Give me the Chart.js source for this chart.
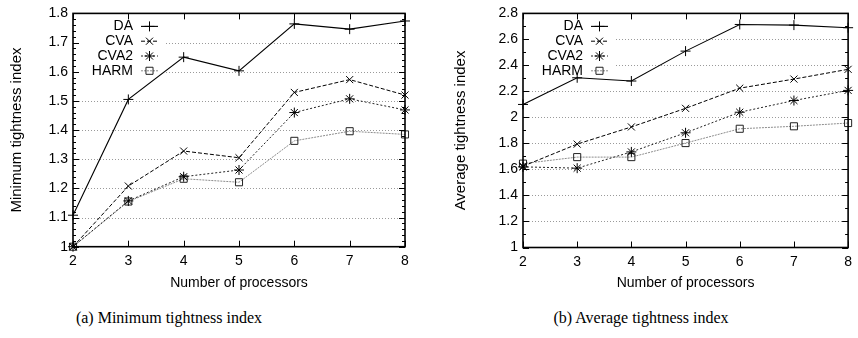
<!DOCTYPE html>
<html>
<head>
<meta charset="utf-8">
<script src="https://cdn.jsdelivr.net/npm/chart.js@4/dist/chart.umd.min.js"></script>
<style>
  body { margin: 0; background: #fff; width: 858px; height: 338px; position: relative; overflow: hidden; }
  .panel { position: absolute; top: 0; width: 429px; height: 300px; }
  .caption { position: absolute; top: 309px; font-family: "Liberation Serif", "Times New Roman", serif; font-size: 16px; color: #000; transform: translateX(-50%); white-space: nowrap; }
</style>
</head>
<body>
<div class="panel" style="left:0"><canvas id="minChart"></canvas></div>
<div class="panel" style="left:429px"><canvas id="avgChart"></canvas></div>
<div class="caption" style="left:169px">(a) Minimum tightness index</div>
<div class="caption" style="left:641px">(b) Average tightness index</div>
<script>
// number of processors (x axis)
const processors = [2, 3, 4, 5, 6, 7, 8];
const seriesNames = ["DA", "CVA", "CVA2", "HARM"];

// minimum tightness index
const minDA   = [1.108, 1.505, 1.650, 1.603, 1.764, 1.746, 1.774];
const minCVA  = [1.000, 1.208, 1.328, 1.305, 1.529, 1.573, 1.520];
const minCVA2 = [1.000, 1.157, 1.240, 1.263, 1.460, 1.507, 1.469];
const minHARM = [1.000, 1.155, 1.233, 1.221, 1.363, 1.396, 1.385];

// average tightness index
const avgDA   = [2.100, 2.305, 2.280, 2.510, 2.715, 2.710, 2.690];
const avgCVA  = [1.625, 1.795, 1.927, 2.070, 2.225, 2.295, 2.370];
const avgCVA2 = [1.620, 1.610, 1.735, 1.882, 2.040, 2.130, 2.208];
const avgHARM = [1.645, 1.695, 1.695, 1.803, 1.913, 1.932, 1.957];

// tick labels
const minTicks = [1, 1.1, 1.2, 1.3, 1.4, 1.5, 1.6, 1.7, 1.8];
const avgTicks = [1, 1.2, 1.4, 1.6, 1.8, 2, 2.2, 2.4, 2.6, 2.8];

// line look per series
const styles = [
  { line: "#000", point: "#000", dash: [],     shape: "cross",    width: 1.1 },
  { line: "#000", point: "#000", dash: [4, 2], shape: "crossRot", width: 1 },
  { line: "#222", point: "#000", dash: [2, 2], shape: "star",     width: 1 },
  { line: "#8c8c8c", point: "#222", dash: [2, 1], shape: "rect",  width: 1 }
];

Chart.defaults.font.family = "'Liberation Sans', Arial, Helvetica, sans-serif";
Chart.defaults.font.size = 14;
Chart.defaults.color = "#000";

function drawMarker(ctx, shape, x, y, color) {
  ctx.save();
  ctx.strokeStyle = color;
  ctx.fillStyle = "rgba(0,0,0,0)";
  ctx.lineWidth = 1;
  ctx.setLineDash([]);
  Chart.helpers.drawPoint(ctx, { pointStyle: shape, radius: 5, rotation: 0, borderWidth: 1 }, x, y);
  ctx.restore();
}

// gnuplot-like frame: dotted grid, key box, inward ticks, border
const framePlugin = {
  id: "frame",
  beforeDatasetsDraw(chart, args, opts) {
    const { ctx, chartArea: a } = chart;
    const y = chart.scales.y;
    ctx.save();
    ctx.strokeStyle = "#9a9a9a";
    ctx.lineWidth = 1;
    ctx.setLineDash([1, 2]);
    opts.yTicks.slice(1, -1).forEach(v => {
      const py = Math.round(y.getPixelForValue(v)) + 0.5;
      ctx.beginPath(); ctx.moveTo(a.left, py); ctx.lineTo(a.right, py); ctx.stroke();
    });
    ctx.setLineDash([]);

    // key
    ctx.fillStyle = "#fff";
    ctx.fillRect(a.left + 1, a.top + 1, 92, 64);
    ctx.font = "14px 'Liberation Sans', Arial, sans-serif";
    ctx.textAlign = "right";
    ctx.textBaseline = "middle";
    seriesNames.forEach((name, i) => {
      const s = styles[i];
      const ky = a.top + 13 + i * 14.8;
      ctx.fillStyle = "#000";
      ctx.fillText(name, a.left + 60, ky);
      ctx.strokeStyle = s.line;
      ctx.lineWidth = s.width;
      ctx.setLineDash(s.dash);
      ctx.beginPath(); ctx.moveTo(a.left + 68, ky); ctx.lineTo(a.left + 85, ky); ctx.stroke();
      drawMarker(ctx, s.shape, a.left + 76.5, ky, s.point);
    });
    ctx.restore();
  },
  afterDatasetsDraw(chart, args, opts) {
    const { ctx, chartArea: a } = chart;
    const { x, y } = chart.scales;
    ctx.save();
    ctx.strokeStyle = "#000";
    ctx.lineWidth = 1;
    ctx.setLineDash([]);
    const hline = (x0, x1, py) => { ctx.beginPath(); ctx.moveTo(x0, py); ctx.lineTo(x1, py); ctx.stroke(); };
    const vline = (px, y0, y1) => { ctx.beginPath(); ctx.moveTo(px, y0); ctx.lineTo(px, y1); ctx.stroke(); };
    // major and minor y ticks on both sides
    const lo = opts.yTicks[0], hi = opts.yTicks[opts.yTicks.length - 1];
    for (let v = lo; v <= hi + 1e-9; v += opts.minor) {
      const py = Math.round(y.getPixelForValue(v)) + 0.5;
      const major = opts.yTicks.some(t => Math.abs(t - v) < 1e-6);
      const len = major ? 6 : 3;
      hline(a.left, a.left + len, py);
      hline(a.right - len, a.right, py);
    }
    processors.forEach(p => {
      const px = Math.round(x.getPixelForValue(p)) + 0.5;
      vline(px, a.bottom, a.bottom - 6);
      vline(px, a.top, a.top + 6);
    });
    ctx.lineWidth = 1.6;
    ctx.strokeRect(a.left, a.top, a.right - a.left, a.bottom - a.top);
    ctx.restore();
  }
};

function buildDatasets(values) {
  return values.map((vals, i) => ({
    label: seriesNames[i],
    data: processors.map((p, k) => ({ x: p, y: vals[k] })),
    borderColor: styles[i].line,
    borderWidth: styles[i].width,
    borderDash: styles[i].dash,
    pointStyle: styles[i].shape,
    pointRadius: 5,
    pointBorderWidth: 1,
    pointBorderColor: styles[i].point,
    pointBackgroundColor: "rgba(0,0,0,0)",
    tension: 0,
    fill: false,
    clip: false
  }));
}

function makeChart(id, values, yTicks, minor, yTitle, box) {
  new Chart(document.getElementById(id), {
    type: "line",
    data: { datasets: buildDatasets(values) },
    options: {
      responsive: true,
      maintainAspectRatio: false,
      animation: false,
      layout: { padding: { left: 0, right: box.right, top: box.top, bottom: 0 } },
      plugins: {
        legend: { display: false },
        tooltip: { enabled: false },
        frame: { yTicks: yTicks, minor: minor }
      },
      scales: {
        x: {
          type: "linear",
          min: processors[0],
          max: processors[processors.length - 1],
          afterBuildTicks: s => { s.ticks = processors.map(v => ({ value: v })); },
          afterFit: s => { s.height = box.xHeight; },
          grid: { display: false, drawTicks: false },
          border: { display: false },
          ticks: { padding: 6, maxRotation: 0 },
          title: { display: true, text: "Number of processors", padding: { top: 0, bottom: 8 } }
        },
        y: {
          min: yTicks[0],
          max: yTicks[yTicks.length - 1],
          afterBuildTicks: s => { s.ticks = yTicks.map(v => ({ value: v })); },
          afterFit: s => { s.width = box.yWidth; },
          grid: { display: false, drawTicks: false },
          border: { display: false },
          ticks: { padding: 5, callback: v => String(Math.round(v * 100) / 100) },
          title: { display: true, text: yTitle, font: { size: 15 }, padding: { top: box.titlePad, bottom: 0 } }
        }
      }
    },
    plugins: [framePlugin]
  });
}

makeChart("minChart", [minDA, minCVA, minCVA2, minHARM], minTicks, 0.02,
  "Minimum tightness index", { right: 24, top: 12.7, xHeight: 53.3, yWidth: 73, titlePad: 8 });
makeChart("avgChart", [avgDA, avgCVA, avgCVA2, avgHARM], avgTicks, 0.1,
  "Average tightness index", { right: 4, top: 12.7, xHeight: 52.5, yWidth: 94, titlePad: 23 });
</script>
</body>
</html>
